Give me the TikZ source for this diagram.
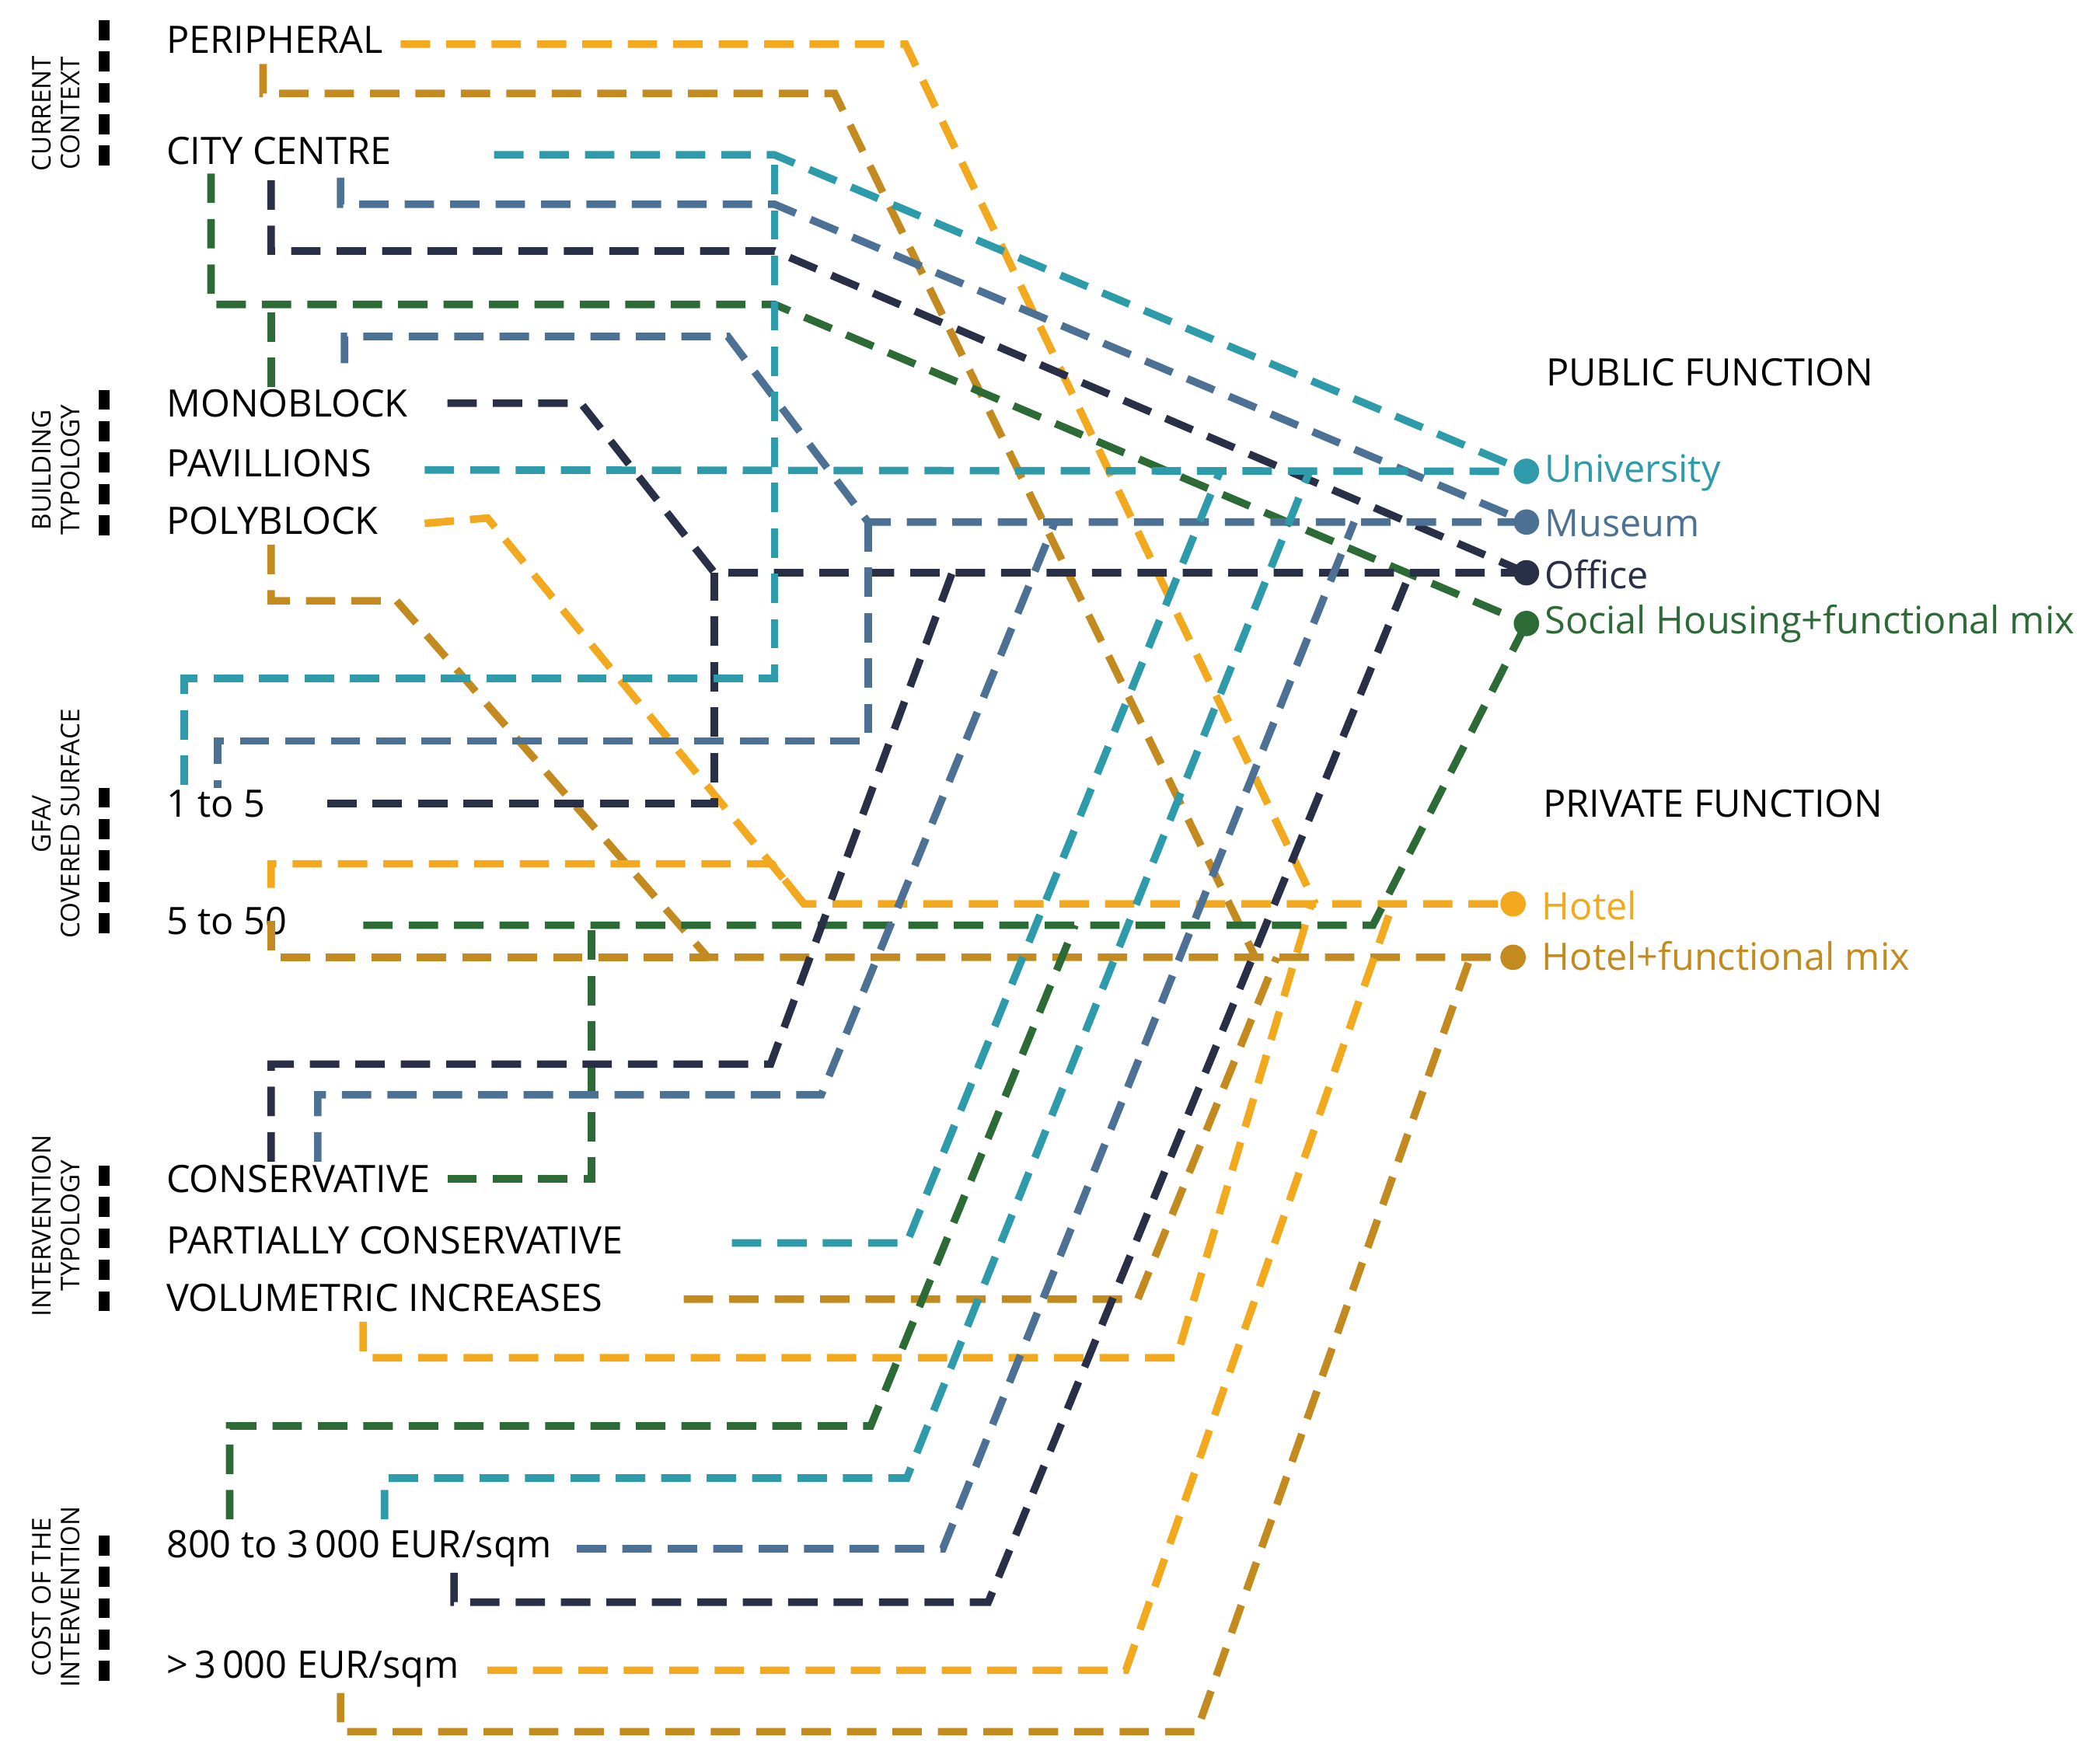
\documentclass[tikz,border=0pt]{standalone}
\usepackage{fontspec}
\setmainfont{Open Sans}
\begin{document}
\begin{tikzpicture}[x=0.01cm,y=-0.01cm,
  ln/.style={line width=1.6pt,dash pattern=on 0.22cm off 0.12cm},
  lab/.style={anchor=west,inner sep=0,font=\fontsize{8.05}{9}\selectfont},
  side/.style={rotate=90,align=center,inner sep=0,font=\fontsize{5.5}{6.2}\selectfont},
  bar/.style={line width=2.3pt,dash pattern=on 0.15cm off 0.085cm},
  dot/.style={circle,fill,inner sep=0,minimum size=0.19cm}]
\definecolor{cU}{HTML}{2E9BAA}
\definecolor{cM}{HTML}{4D7194}
\definecolor{cO}{HTML}{2A2F48}
\definecolor{cS}{HTML}{2C6B36}
\definecolor{cH}{HTML}{F2A91E}
\definecolor{cX}{HTML}{C38B1F}
\useasboundingbox (0,0) rectangle (1568,1321);
% side labels and bars
\node[side] (s1) at (42,85) {CURRENT\\CONTEXT};
\node[side] (s2) at (42,352) {BUILDING\\TYPOLOGY};
\node[side] (s3) at (42,617) {GFA/\\COVERED SURFACE};
\node[side] (s4) at (42,918) {INTERVENTION\\TYPOLOGY};
\node[side] (s5) at (42,1196) {COST OF THE\\INTERVENTION};
\foreach \a/\b in {15/127,292/405,590/704,873/987,1150/1264}
  \draw[bar] (78,\a) -- (78,\b);
% left labels
\node[lab] (peri) at (124,30) {PERIPHERAL};
\node[lab] (city) at (124,113) {CITY CENTRE};
\node[lab] (mono) at (124,302) {MONOBLOCK};
\node[lab] (pav) at (124,347) {PAVILLIONS};
\node[lab] (poly) at (124,390) {POLYBLOCK};
\node[lab] (one) at (124,602) {1 to 5};
\node[lab] (five) at (124,690) {5 to 50};
\node[lab] (cons) at (124,883) {CONSERVATIVE};
\node[lab] (pcons) at (124,929) {PARTIALLY CONSERVATIVE};
\node[lab] (vol) at (124,972) {VOLUMETRIC INCREASES};
\node[lab] (c800) at (124,1160) {800 to 3\,000 EUR/sqm};
\node[lab] (c3k) at (124,1250) {>\,3\,000 EUR/sqm};
% right
\node[lab] (pub) at (1157,279) {PUBLIC FUNCTION};
\node[lab] (priv) at (1155,602) {PRIVATE FUNCTION};
\node[dot,cU] (uni) at (1143,353) {};
\node[dot,cM] (mus) at (1143,391) {};
\node[dot,cO] (off) at (1143,429) {};
\node[dot,cS] (soc) at (1143,467) {};
\node[dot,cH] (hot) at (1133,677) {};
\node[dot,cX] (hmx) at (1133,717) {};
\node[lab,text=cU] (tU) at (1156,354) {University};
\node[lab,text=cM] (tM) at (1156,392) {Museum};
\node[lab,text=cO] (tO) at (1156,430) {Office};
\node[lab,text=cS] (tS) at (1156,467) {Social Housing+functional mix};
\node[lab,text=cH] (tH) at (1154,678) {Hotel};
\node[lab,text=cX] (tX) at (1154,716) {Hotel+functional mix};
% ochre (hotel mix)
\draw[ln,cX] (197,48) -- (197,70) -- (625,70) -- (940,717);
\draw[ln,cX] (203,408) -- (203,450) -- (297,450) -- (530,717) -- (hmx.center);
\draw[ln,cX] (203,690) -- (203,717) -- (530,717);
\draw[ln,cX] (512,973) -- (852,973) -- (956,717);
\draw[ln,cX] (255,1268) -- (255,1297) -- (896,1297) -- (1101,717);
% yellow (hotel)
\draw[ln,cH] (300,33) -- (678,33) -- (985,677);
\draw[ln,cH] (318,392) -- (365,388) -- (602,677) -- (hot.center);
\draw[ln,cH] (203,665) -- (203,647) -- (578,647) -- (602,677);
\draw[ln,cH] (272,990) -- (272,1017) -- (881,1017) -- (982,677);
\draw[ln,cH] (365,1251) -- (843,1251) -- (1043,677);
% green (social)
\draw[ln,cS] (158,130) -- (158,228) -- (580,228) -- (soc.center);
\draw[ln,cS] (203,290) -- (203,228);
\draw[ln,cS] (272,693) -- (1028,693) -- (soc.center);
\draw[ln,cS] (335,883) -- (443,883) -- (443,693);
\draw[ln,cS] (172,1138) -- (172,1068) -- (652,1068) -- (805,693);
% navy (office)
\draw[ln,cO] (203,135) -- (203,188) -- (580,188) -- (off.center);
\draw[ln,cO] (335,302) -- (435,302) -- (535,429) -- (off.center);
\draw[ln,cO] (245,602) -- (535,602) -- (535,429);
\draw[ln,cO] (203,870) -- (203,797) -- (577,797) -- (713,429);
\draw[ln,cO] (340,1178) -- (340,1200) -- (740,1200) -- (1056,429);
% blue (museum)
\draw[ln,cM] (255,133) -- (255,153) -- (580,153) -- (mus.center);
\draw[ln,cM] (258,272) -- (258,252) -- (545,252) -- (650,391) -- (mus.center);
\draw[ln,cM] (650,391) -- (650,555) -- (163,555) -- (163,590);
\draw[ln,cM] (238,870) -- (238,820) -- (615,820) -- (790,391);
\draw[ln,cM] (432,1160) -- (706,1160) -- (1014,391);
% teal (university)
\draw[ln,cU] (370,116) -- (580,116) -- (uni.center);
\draw[ln,cU] (138,588) -- (138,508) -- (580,508) -- (580,116);
\draw[ln,cU] (318,352) -- (uni.center);
\draw[ln,cU] (548,931) -- (679,931) -- (914,352);
\draw[ln,cU] (288,1138) -- (288,1107) -- (679,1107) -- (981,352);
\end{tikzpicture}
\end{document}
